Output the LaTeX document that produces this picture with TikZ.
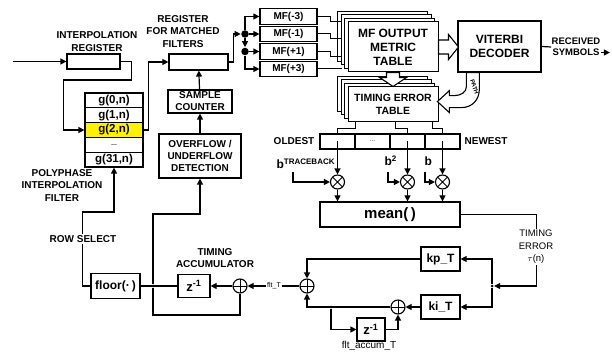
\documentclass[tikz,border=0pt]{standalone}
\usepackage{fontspec}
\setmainfont{Liberation Sans}
\usetikzlibrary{arrows.meta, calc, shadows}

\tikzset{
  blk/.style={draw, line width=1.2pt, fill=white, inner sep=0pt, align=center,
    font=\fontsize{10}{12}\selectfont\bfseries},
  lbl/.style={inner sep=0pt, align=center, font=\fontsize{10}{12.5}\selectfont\bfseries},
  cell/.style={blk, minimum width=58pt, minimum height=14.8pt,
    font=\fontsize{11.5}{12}\selectfont\bfseries},
  stack/.style={blk, line width=1pt, font=\fontsize{12}{14}\selectfont\bfseries,
    copy shadow={draw, fill=white, shadow xshift=-10.5pt, shadow yshift=10.5pt},
    copy shadow={draw, fill=white, shadow xshift=-7pt, shadow yshift=7pt},
    copy shadow={draw, fill=white, shadow xshift=-3.5pt, shadow yshift=3.5pt}},
  sum/.style={draw, circle, line width=1.1pt, fill=white, minimum size=14pt, inner sep=0pt,
    path picture={\draw[line width=1pt] (path picture bounding box.north) -- (path picture bounding box.south)
      (path picture bounding box.west) -- (path picture bounding box.east);}},
  mul/.style={draw, circle, line width=1.1pt, fill=white, minimum size=14pt, inner sep=0pt,
    path picture={\draw[line width=1pt] (path picture bounding box.north west) -- (path picture bounding box.south east)
      (path picture bounding box.south west) -- (path picture bounding box.north east);}},
  joint/.style={circle, fill, inner sep=0pt, minimum size=3pt},
  bigjoint/.style={circle, fill, inner sep=0pt, minimum size=7.5pt},
  fat/.style={draw, fill=white, line width=1.1pt, line join=miter},
}

\begin{document}
\begin{tikzpicture}[x=1pt, y=-1pt, line width=1.2pt, >={Triangle[length=6pt,width=6pt]}]
    \useasboundingbox (0,0) rectangle (612,352);

    % 1. Interpolation register and polyphase filter
    \coordinate (in) at (13,61.5);
    \node[blk, minimum width=53pt, minimum height=15pt] (irg) at (93.5,61.5) {};
    \node[lbl] (irglbl) at (97,41.5) {INTERPOLATION\\REGISTER};
    \foreach \i/\t/\c in {0/{g(0,n)}/white, 1/{g(1,n)}/white, 2/{g(2,n)}/yellow,
        3/{\fontsize{6}{6}\selectfont\dots}/white, 4/{g(31,n)}/white}
        \node[cell, fill=\c] (g\i) at (114,100.4+14.8*\i) {\t};
    \node[lbl] (pplbl) at (62,185.5) {POLYPHASE\\INTERPOLATION\\FILTER};
    \draw[->] (in) -- (irg);
    \draw[->] (irg.east) -- ++(11,0) -- ++(0,18.5) -| ([xshift=-21pt]g2.west) -- (g2.west);

    % 2. Register for matched filters, counter, overflow
    \node[blk, minimum width=59pt, minimum height=16pt] (rmf) at (198.5,62) {};
    \node[lbl] (rmflbl) at (183,31.5) {REGISTER\\FOR MATCHED\\FILTERS};
    \node[blk, minimum width=64pt, minimum height=23pt] (scnt) at (200,101.5) {SAMPLE\\COUNTER};
    \node[blk, minimum width=82pt, minimum height=44pt] (ovf) at (200,156) {OVERFLOW /\\UNDERFLOW\\DETECTION};
    \draw[->] (g2.east) -- ++(5,0) |- (rmf.west);
    \draw[->] (ovf) -- (scnt);
    \draw[->] (scnt) -- (rmf);

    % 3. Matched filters
    \foreach \i/\t in {1/-3, 2/-1, 3/+1, 4/+3}
        \node[blk, minimum width=57pt, minimum height=15.5pt] (mf\i) at (288.5,-1+17.5*\i) {MF(\t)};
    \node[bigjoint] (d1) at (245,34) {};
    \node[bigjoint] (d2) at (245,51.5) {};
    \draw[->] (rmf.east) -- ++(5,0) |- (d1);
    \draw[->] (d1) -- (mf2);
    \draw[->] (d1) |- (mf1);
    \draw[->] (d1) -- (d2);
    \draw[->] (d2) -- (mf3);
    \draw[->] (d2) |- (mf4);

    % 4. Tables and Viterbi decoder
    \node[stack, minimum width=90pt, minimum height=50pt] (mfo) at (393,47) {MF OUTPUT\\METRIC\\TABLE};
    \node[stack, minimum width=90pt, minimum height=35pt, font=\fontsize{10.5}{13}\selectfont\bfseries]
        (tet) at (393,104.5) {TIMING ERROR\\TABLE};
    \foreach \i in {1,2,3}
        \draw[line width=1pt] (mf\i.east) -- ++(13,0) -- ++(0,5) -- ++(11,0);
    \draw[line width=1pt] (mf4.east) -- ++(24,0);
    \node[blk, minimum width=83pt, minimum height=51pt, font=\fontsize{12}{14}\selectfont\bfseries]
        (vit) at (499.5,46.5) {VITERBI\\DECODER};
    % hollow arrows
    \draw[fat] (mfo.east) ++(0,-7) -- ++(10,0) -- ++(0,-5.5) -- ++(10,12.5) -- ++(-10,12.5)
        -- ++(0,-5.5) -- ++(-10,0) -- cycle;
    \draw[fat] (mfo.south) ++(-6.5,0) -- ++(0,5) -- ++(-7,0) -- ++(13.5,9) -- ++(13.5,-9)
        -- ++(-7,0) -- ++(0,-5) -- cycle;
    \draw[fat] ([xshift=9pt]vit.south west) -- ++(0,14)
        .. controls +(0,6) and +(6,0) .. ++(-12,9) -- ++(-5,0) -- ++(0,-5) -- ++(-12,11)
        -- ++(12,11) -- ++(0,-5) -- ++(12,0) .. controls +(11,0) and +(0,11) .. ++(18,-19)
        -- ++(0,-16) -- cycle;
    \node[font=\fontsize{6}{6}\selectfont\bfseries, rotate=-72, inner sep=0pt] (pathlbl) at (474.5,87) {PATH};
    \node[lbl, font=\fontsize{9.5}{11}\selectfont\bfseries] (rsl) at (576,47) {RECEIVED\\SYMBOLS};
    \draw (vit.east) -- (rsl.west);
    \draw[->] ([yshift=-5.5pt]rsl.east) -- ++(9,0);

    % 5. Shift register and weighting
    \foreach \i/\t in {1/{}, 2/{\dots}, 3/{}, 4/{}}
        \node[blk, minimum width=35pt, minimum height=15pt, font=\fontsize{6}{6}\selectfont] (sr\i) at (302.5+35*\i,141.5) {\t};
    \node[lbl] (old) at (294,141.5) {OLDEST};
    \node[lbl] (new) at (486,141.5) {NEWEST};
    \draw[line width=1pt] ([xshift=-38pt]tet.south) -- ++(0,6) -| (sr1.north);
    \draw[line width=1pt] ([xshift=2pt]tet.south) -- ++(0,6) -| (sr3.north);
    \draw[line width=1pt] ([xshift=39pt]tet.south) -- ++(0,6) -| (sr4.north);
    \node[mul] (m1) at (337.5,182) {};
    \node[mul] (m2) at (407.5,182) {};
    \node[mul] (m3) at (442.5,182) {};
    \node[font=\fontsize{12}{14}\selectfont\bfseries, anchor=base west, inner sep=0pt] (btr) at (276,169) {b\textsuperscript{TRACEBACK}};
    \node[font=\fontsize{12}{14}\selectfont\bfseries, anchor=base west, inner sep=0pt] (b2) at (384,166) {b\textsuperscript{2}};
    \node[font=\fontsize{12}{14}\selectfont\bfseries, anchor=base west, inner sep=0pt] (b1) at (424,166) {b};
    \draw[->] ($(btr.base west)+(17,3)$) |- (m1);
    \draw[->] ($(b2.base west)+(4,6)$) |- (m2);
    \draw[->] ($(b1.base west)+(1,6)$) |- (m3);
    \node[blk, minimum width=140pt, minimum height=25pt, font=\fontsize{15}{16}\selectfont\bfseries] (mean) at (390,214.5) {mean(\,)};
    \draw[->] (sr1.center) -- (m1);
    \draw[->] (sr3.center) -- (m2);
    \draw[->] (sr4.center) -- (m3);
    \foreach \i in {1,2,3}
        \draw[->] (m\i) -- (m\i |- mean.north);

    % 6. Loop filter
    \node[blk, minimum width=39pt, minimum height=24pt, font=\fontsize{12}{14}\selectfont\bfseries] (kp) at (440.5,259) {kp\_T};
    \node[blk, minimum width=39pt, minimum height=24pt, font=\fontsize{12}{14}\selectfont\bfseries] (ki) at (440.5,307) {ki\_T};
    \node[joint] (jn) at (492,286) {};
    \node[sum] (a2) at (307,286) {};
    \node[sum] (a3) at (398,307) {};
    \node[joint] (jn2) at (331,307) {};
    \node[blk, minimum width=28pt, minimum height=23pt, font=\fontsize{13}{14}\selectfont\bfseries] (zf) at (371,329.5) {z\textsuperscript{-1}};
    \draw[->] (mean.east) -- ++(76,0) |- (jn);
    \node[inner sep=1pt, fill=white, align=center, font=\fontsize{9.5}{12.5}\selectfont] (telbl) at (536,247) {TIMING\\ERROR\\$\tau$(n)};
    \draw[->] (jn) |- (kp);
    \draw[->] (jn) |- (ki);
    \draw[->] (kp.west) -| (a2.north);
    \draw[->] (ki) -- (a3);
    \draw[->] (a3) -| (a2);
    \draw[->] (jn2) |- (zf);
    \draw[->] (zf.east) -| (a3.south);
    \node[font=\fontsize{10}{12}\selectfont, inner sep=0pt] (falbl) at (369,345.5) {flt\_accum\_T};

    % 7. Timing accumulator
    \node[sum] (a1) at (240,286) {};
    \node[blk, minimum width=32pt, minimum height=23pt, font=\fontsize{13}{14}\selectfont\bfseries] (za) at (194,286) {z\textsuperscript{-1}};
    \node[blk, minimum width=49pt, minimum height=25pt, font=\fontsize{12}{14}\selectfont\bfseries] (fl) at (115.5,286) {floor(·\,)};
    \node[joint] (jacc) at (153,286) {};
    \node[lbl] (talbl) at (215,258) {TIMING\\ACCUMULATOR};
    \draw[->] (a2) -- (a1);
    \node[inner sep=1pt, fill=white, font=\fontsize{7}{8}\selectfont] (ftlbl) at (274,286) {flt\_T};
    \draw[->] (a1) -- (za);
    \draw (za) -- (fl);
    \draw[->] (jacc) -- ++(0,-72) -| (ovf.south);
    \draw (jacc) -- ++(0,29) -| (a1.south);
    \draw[->] (fl.west) -- ++(-8,0) -- ++(0,-74) -| (g4.south);
    \node[lbl, fill=white, inner sep=1pt] (rslbl) at (83,239) {ROW SELECT};
\end{tikzpicture}
\end{document}
